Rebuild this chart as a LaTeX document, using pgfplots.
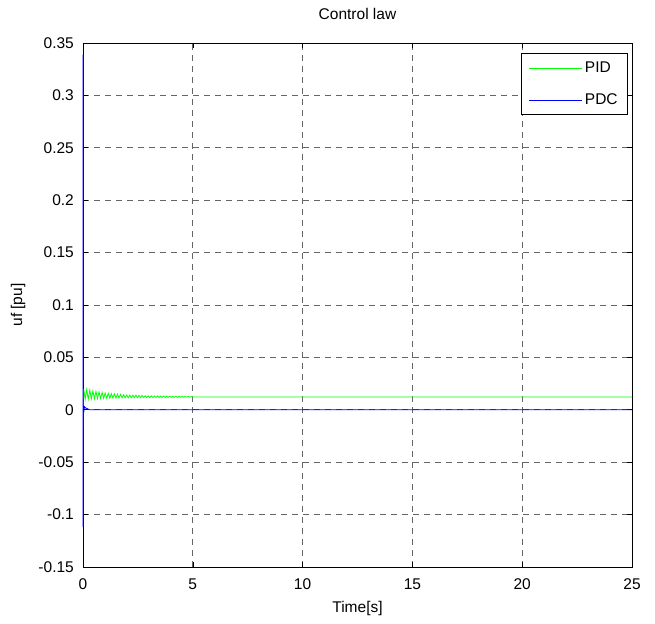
\documentclass[border=0pt]{standalone}
\usepackage{pgfplots}
\pgfplotsset{compat=1.18}
\usepackage{fontspec}
\setmainfont{Liberation Sans}
\definecolor{mgreen}{RGB}{0,255,0}
\definecolor{mblue}{RGB}{0,0,255}
\begin{document}
\begin{tikzpicture}
\path (-83bp,-57bp) rectangle (572bp,567bp);
\begin{axis}[
  set layers,
  at={(0,0)}, anchor=south west,
  scale only axis, width=549bp, height=524bp,
  xmin=0, xmax=25, ymin=-0.15, ymax=0.35,
  xtick={0,5,...,25},
  ytick={-0.15,-0.1,-0.05,0,0.05,0.1,0.15,0.2,0.25,0.3,0.35},
  scaled y ticks=false,
  font=\fontsize{15.5bp}{18bp}\selectfont,
  /pgf/number format/assume math mode=true,
  yticklabel style={/pgf/number format/fixed, /pgf/number format/precision=2, inner sep=0pt, xshift=-9bp},
  xticklabel style={anchor=base, inner sep=0pt, yshift=-22bp},
  tick align=inside, major tick length=5bp,
  tick style={black, line width=0.6bp},
  axis line style={black, line width=0.8bp},
  grid=major,
  major grid style={black!60, line width=0.7bp, dash pattern=on 6bp off 5bp},
  title={Control law},
  title style={at={(axis description cs:0.5,1)}, anchor=base, yshift=18bp, inner sep=0pt},
  xlabel={Time[s]},
  xlabel style={at={(axis description cs:0.5,0)}, anchor=base, yshift=-45bp, inner sep=0pt},
  ylabel={uf [pu]},
  ylabel style={at={(axis description cs:-0.1111,0.5)}, anchor=base, inner sep=0pt},
  legend style={at={(axis description cs:0.9927,0.9809)}, anchor=north east, draw=black, line width=0.7bp, inner xsep=8bp, inner ysep=6.5bp, row sep=16bp, font=\fontsize{15.5bp}{18bp}\selectfont},
  legend cell align=left,
  legend image code/.code={\draw[#1] (0bp,0bp) -- (53bp,0bp);},
]
\addplot[color=mgreen, line width=0.8bp] coordinates {
(0,0) (0.03,0.0199) (0.10,0.0101) (0.17,0.0193) (0.24,0.0102) (0.31,0.0188) (0.38,0.0104)
(0.45,0.0182) (0.52,0.0105) (0.59,0.0176) (0.66,0.0107) (0.73,0.0171) (0.80,0.0108)
(0.87,0.0165) (0.94,0.0110) (1.01,0.0160) (1.08,0.0110) (1.15,0.0157) (1.22,0.0111)
(1.29,0.0155) (1.36,0.0112) (1.43,0.0152) (1.50,0.0113) (1.57,0.0149) (1.64,0.0113)
(1.71,0.0147) (1.78,0.0114) (1.85,0.0144) (1.92,0.0115) (1.99,0.0141) (2.06,0.0115)
(2.13,0.0140) (2.20,0.0115) (2.27,0.0139) (2.34,0.0116) (2.41,0.0140) (2.48,0.0116)
(2.55,0.0137) (2.62,0.0116) (2.69,0.0136) (2.76,0.0117) (2.83,0.0134) (2.90,0.0117)
(2.97,0.0133) (3.04,0.0117) (3.11,0.0133) (3.18,0.0117) (3.25,0.0132) (3.32,0.0118)
(3.39,0.0132) (3.46,0.0118) (3.53,0.0131) (3.60,0.0118) (3.67,0.0131) (3.74,0.0118)
(3.81,0.0130) (3.88,0.0118) (3.95,0.0130) (4.02,0.0119) (4.09,0.0129) (4.16,0.0119)
(4.23,0.0129) (4.30,0.0119) (4.37,0.0128) (4.44,0.0120) (4.51,0.0128) (4.58,0.0120)
(4.65,0.0127) (4.72,0.0120) (4.79,0.0127) (4.86,0.0121) (4.93,0.0126) (5.0,0.0123)
(25,0.0123)
};
\addlegendentry{PID}
\addplot[color=mblue, line width=0.9bp, on layer=axis foreground, forget plot] coordinates {
(0,0) (0.003,0.339) (0.008,-0.112) (0.015,0.004) (0.03,-0.003) (0.06,0.003)
(0.1,0.002) (0.2,0.001) (0.3,0) (25,0)
};
\addlegendimage{color=mblue, line width=0.9bp}
\addlegendentry{PDC}
\end{axis}
\end{tikzpicture}
\end{document}
